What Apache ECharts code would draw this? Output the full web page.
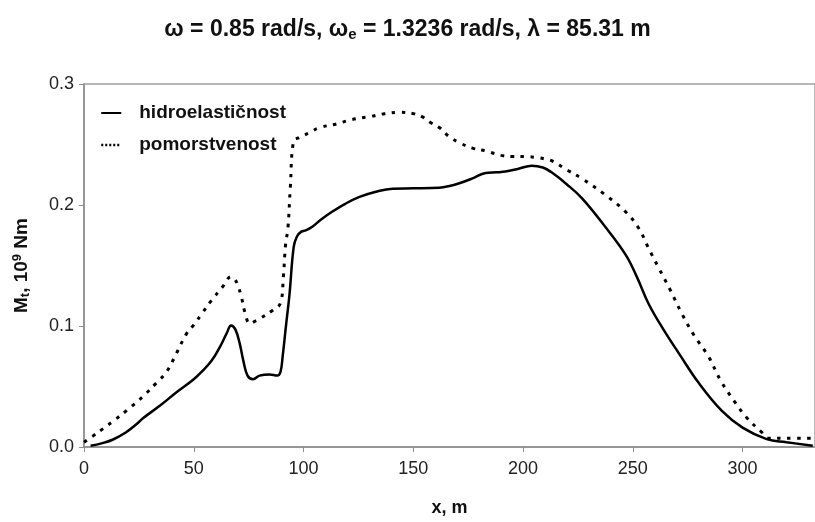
<!DOCTYPE html>
<html>
<head>
<meta charset="utf-8">
<script src="https://cdn.jsdelivr.net/npm/echarts@6/dist/echarts.min.js"></script>
<style>html,body{margin:0;padding:0;background:#fff}#c{width:815px;height:522px}</style>
</head>
<body>
<div id="c"></div>
<script>
var xTicks = [0, 50, 100, 150, 200, 250, 300];
var yTicks = [0.0, 0.1, 0.2, 0.3];

var hydroX = [3, 8, 13, 19, 24, 27, 34.5, 42, 50, 54, 58, 62, 65, 67, 69, 71, 72.5, 74.5, 77, 80, 84.5, 88, 89.5, 90.5, 92, 93.6, 95.5, 97, 99, 101, 104, 108, 113, 119, 125.5, 133, 140.6, 150, 161.8, 166, 171, 177, 183, 188, 192, 198, 204, 209, 213, 220, 227, 237, 246.7, 252, 257.3, 264, 271, 280, 290.6, 300, 311, 320, 332];
var hydroY = [0.001, 0.003, 0.006, 0.012, 0.019, 0.024, 0.034, 0.045, 0.056, 0.063, 0.071, 0.083, 0.094, 0.1005, 0.097, 0.085, 0.072, 0.059, 0.056, 0.059, 0.060, 0.059, 0.062, 0.075, 0.10, 0.126, 0.165, 0.174, 0.178, 0.179, 0.182, 0.188, 0.1944, 0.201, 0.2067, 0.211, 0.2135, 0.2138, 0.2143, 0.2155, 0.218, 0.222, 0.2265, 0.227, 0.2276, 0.230, 0.2325, 0.231, 0.227, 0.217, 0.2053, 0.183, 0.159, 0.140, 0.118, 0.097, 0.0774, 0.053, 0.0298, 0.016, 0.0065, 0.004, 0.001];

var seaX = [0, 4, 8.8, 13, 20, 27, 33, 37.6, 42, 46.7, 50, 54, 58, 63, 67, 68.5, 70, 71.7, 73.5, 75.5, 78, 80, 86, 89.5, 90.8, 91.8, 92.9, 94, 95.5, 98, 103, 107, 115, 122, 130, 137, 143.6, 150, 154, 158, 162, 166, 171, 177, 183, 190, 195, 201, 206, 210, 213, 220, 227, 237, 246.7, 252.7, 257, 261.8, 267, 272.4, 278, 284.5, 290, 296.7, 302, 308.8, 312, 320, 332];
var seaY = [0.004, 0.009, 0.0153, 0.021, 0.031, 0.042, 0.053, 0.062, 0.077, 0.0937, 0.101, 0.111, 0.121, 0.132, 0.1406, 0.139, 0.134, 0.124, 0.110, 0.102, 0.104, 0.106, 0.113, 0.119, 0.14, 0.167, 0.181, 0.215, 0.253, 0.2557, 0.260, 0.2638, 0.267, 0.2706, 0.273, 0.2755, 0.2766, 0.2755, 0.273, 0.268, 0.2638, 0.257, 0.2515, 0.247, 0.2447, 0.241, 0.2401, 0.240, 0.2393, 0.238, 0.2366, 0.229, 0.2216, 0.209, 0.1944, 0.1808, 0.165, 0.148, 0.130, 0.11, 0.092, 0.0747, 0.055, 0.0366, 0.024, 0.0121, 0.0073, 0.0073, 0.0073];

var seriesNames = ['hidroelastičnost', 'pomorstvenost'];

function pairs(xs, ys) { return xs.map(function (x, i) { return [x, ys[i]]; }); }

var FONT = '"Liberation Sans", Arial, sans-serif';
var DOT = [3.5, 6.5];
var chart = echarts.init(document.getElementById('c'), null, { renderer: 'canvas' });
chart.setOption({
  backgroundColor: '#ffffff',
  animation: false,
  title: {
    left: 'center',
    top: 12,
    text: '{a|ω = 0.85 rad/s, ω}{s|e}{a| = 1.3236 rad/s, λ = 85.31 m}',
    textStyle: {
      rich: {
        a: { fontFamily: FONT, fontSize: 23, fontWeight: 'bold', color: '#111' },
        s: { fontFamily: FONT, fontSize: 15, fontWeight: 'bold', color: '#111', padding: [10, 0, 0, 0] }
      }
    }
  },
  legend: {
    orient: 'vertical',
    left: 95,
    top: 97,
    itemWidth: 20,
    itemHeight: 3,
    itemGap: 10,
    textStyle: { fontFamily: FONT, fontSize: 19, fontWeight: 'bold', color: '#111', lineHeight: 22, padding: [0, 0, 0, 13] },
    data: [
      { name: seriesNames[0], itemStyle: { opacity: 0 }, lineStyle: { color: '#000', width: 2, type: 'solid' } },
      { name: seriesNames[1], itemStyle: { opacity: 0 }, lineStyle: { color: '#000', width: 2.5, type: [2, 2] } }
    ]
  },
  grid: { left: 84, right: -2, top: 84, bottom: 68, show: true, borderColor: '#a0a0a0', borderWidth: 1.5 },
  xAxis: {
    type: 'value', min: xTicks[0], max: 333, interval: 50,
    name: 'x, m', nameLocation: 'middle', nameGap: 52,
    nameTextStyle: { fontFamily: FONT, fontSize: 18, fontWeight: 'bold', color: '#111' },
    axisLine: { lineStyle: { color: '#8c8c8c', width: 1.5 } },
    axisTick: { show: true, length: 5, lineStyle: { color: '#8c8c8c' } },
    axisLabel: { fontFamily: FONT, fontSize: 18, color: '#222', margin: 13, showMaxLabel: false,
      formatter: function (v) { return xTicks.indexOf(v) >= 0 ? String(v) : ''; } },
    splitLine: { show: false }
  },
  yAxis: {
    type: 'value', min: yTicks[0], max: yTicks[yTicks.length - 1], interval: 0.1,
    name: '{a|M}{sub|t}{a|, 10}{sup|9}{a| Nm}', nameLocation: 'middle', nameGap: 52, nameRotate: 90,
    nameTextStyle: {
      rich: {
        a: { fontFamily: FONT, fontSize: 19, fontWeight: 'bold', color: '#111' },
        sub: { fontFamily: FONT, fontSize: 13, fontWeight: 'bold', color: '#111', padding: [8, 0, 0, 0] },
        sup: { fontFamily: FONT, fontSize: 13, fontWeight: 'bold', color: '#111', padding: [0, 0, 8, 0] }
      }
    },
    axisLine: { show: true, lineStyle: { color: '#8c8c8c', width: 1.5 } },
    axisTick: { show: true, length: 5, lineStyle: { color: '#8c8c8c' } },
    axisLabel: { fontFamily: FONT, fontSize: 18, color: '#222', margin: 10,
      formatter: function (v) { return v.toFixed(1); } },
    splitLine: { show: false }
  },
  series: [
    {
      name: seriesNames[0], type: 'line', data: pairs(hydroX, hydroY),
      showSymbol: false, symbol: 'none', smooth: 0.4,
      lineStyle: { color: '#000', width: 2.5, type: 'solid' }, itemStyle: { color: '#000' }
    },
    {
      name: seriesNames[1], type: 'line', data: pairs(seaX, seaY),
      showSymbol: false, symbol: 'none', smooth: 0.4,
      lineStyle: { color: '#000', width: 3, type: DOT }, itemStyle: { color: '#000' }
    }
  ]
});
</script>
</body>
</html>
